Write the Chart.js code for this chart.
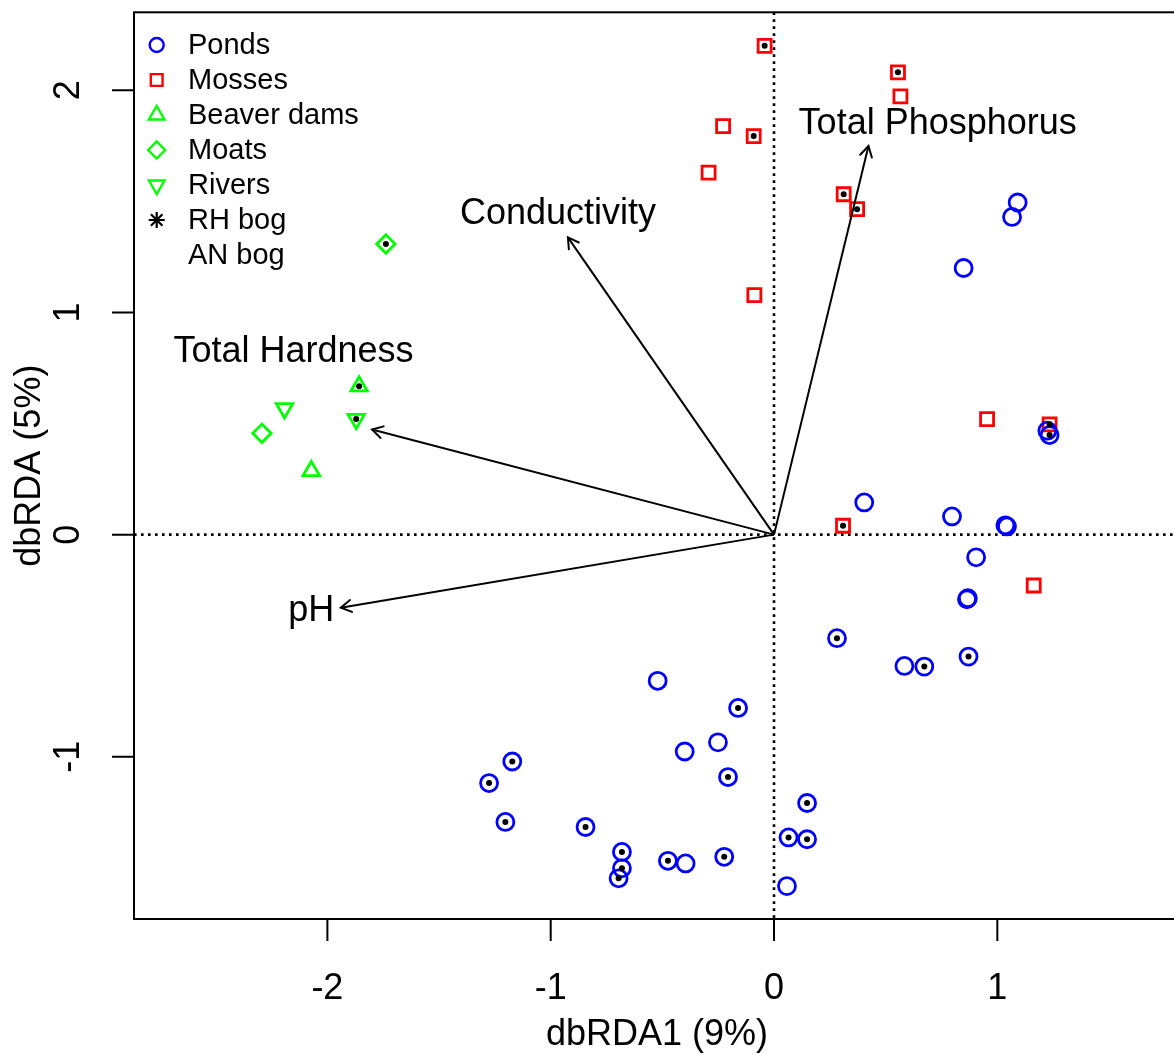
<!DOCTYPE html>
<html>
<head>
<meta charset="utf-8">
<script src="https://cdn.jsdelivr.net/npm/chart.js@4/dist/chart.umd.min.js"></script>
<style>
html,body{margin:0;padding:0;background:#fff;overflow:hidden;width:1174px;height:1055px}
#wrap{width:1174px;height:1055px;overflow:hidden;position:relative;background:#fff}
canvas{display:block}
</style>
</head>
<body>
<div id="wrap"><canvas id="c" width="1200" height="1055"></canvas></div>
<script>
// ---------- data ----------
const pondsX = [1.091, 1.066, 0.849, 1.234, 1.224, 0.404, 0.797, 1.043, 1.036, 0.905, 0.864, 0.868, 0.282, 0.584, 0.673, 0.871,
  -0.521, -0.161, -0.400, -0.251, -0.206, -1.172, -1.276, -1.203, -0.844, -0.681, -0.681, -0.696, -0.475, -0.396, -0.223, 0.148, 0.065, 0.148, 0.058];
const pondsY = [1.495, 1.430, 1.200, 0.448, 0.468, 0.145, 0.082, 0.037, 0.042, -0.102, -0.291, -0.286, -0.466, -0.591, -0.594, -0.549,
  -0.658, -0.780, -0.976, -0.935, -1.091, -1.021, -1.118, -1.293, -1.316, -1.428, -1.502, -1.547, -1.468, -1.480, -1.450, -1.208, -1.363, -1.371, -1.582];
const pondsRH = [0, 0, 0, 1, 0, 0, 0, 0, 0, 0, 0, 0, 1, 0, 1, 1,
  0, 1, 0, 0, 1, 1, 1, 1, 1, 1, 1, 1, 1, 0, 1, 1, 1, 1, 0];

const mossesX = [-0.042, 0.555, 0.566, -0.228, -0.091, -0.293, 0.312, 0.372, -0.088, 0.954, 1.234, 0.309, 1.163];
const mossesY = [2.200, 2.081, 1.973, 1.839, 1.794, 1.629, 1.532, 1.465, 1.078, 0.520, 0.496, 0.040, -0.229];
const mossesRH = [1, 1, 0, 0, 1, 0, 1, 1, 0, 0, 1, 1, 0];

const beaverX = [-1.858, -2.072];
const beaverY = [0.668, 0.287];
const beaverRH = [1, 0];

const moatsX = [-1.738, -2.293];
const moatsY = [1.308, 0.456];
const moatsRH = [1, 0];

const riversX = [-1.871, -2.192];
const riversY = [0.520, 0.568];
const riversRH = [1, 0];

const envNames = ["Total Phosphorus", "Conductivity", "Total Hardness", "pH"];
const envX = [0.423, -0.923, -1.800, -1.940];
const envY = [1.749, 1.338, 0.473, -0.329];
const envLabelX = [0.733, -0.967, -2.152, -2.072];
const envLabelY = [1.846, 1.445, 0.822, -0.344];

const xTicks = [-2, -1, 0, 1];
const yTicks = [-1, 0, 1, 2];
const xTickLabels = ["-2", "-1", "0", "1"];
const yTickLabels = ["-1", "0", "1", "2"];
const xTitle = "dbRDA1 (9%)";
const yTitle = "dbRDA (5%)";
const legendLabels = ["Ponds", "Mosses", "Beaver dams", "Moats", "Rivers", "RH bog", "AN bog"];

// ---------- build datasets ----------
const BLUE = "#0000FF", RED = "#FF0000", GREEN = "#00FF00";
function pts(xs, ys) { return xs.map((x, i) => ({ x: x, y: ys[i] })); }
function rhPts(xs, ys, f) { return xs.map((x, i) => ({ x: x, y: ys[i], f: f[i] })).filter(p => p.f === 1).map(p => ({ x: p.x, y: p.y })); }
const rhData = [].concat(
  rhPts(pondsX, pondsY, pondsRH), rhPts(mossesX, mossesY, mossesRH),
  rhPts(beaverX, beaverY, beaverRH), rhPts(moatsX, moatsY, moatsRH), rhPts(riversX, riversY, riversRH));

function sym(label, data, color, style, radius, rotation) {
  return { label: label, data: data, showLine: false, pointStyle: style, pointRadius: radius, pointHoverRadius: radius,
    pointRotation: rotation || 0, borderColor: color, backgroundColor: "rgba(0,0,0,0)", pointBorderWidth: 2.8, borderWidth: 2.8, order: 2 };
}
const datasets = [
  { label: "RH bog", data: rhData, pointStyle: "circle", pointRadius: 3, pointHoverRadius: 3, backgroundColor: "#000", borderColor: "#000", borderWidth: 0, pointBorderWidth: 0, order: 0 },
  sym("Ponds", pts(pondsX, pondsY), BLUE, "circle", 8.5),
  sym("Mosses", pts(mossesX, mossesY), RED, "rect", 9.2),
  sym("Beaver dams", pts(beaverX, beaverY), GREEN, "triangle", 9.5),
  sym("Moats", pts(moatsX, moatsY), GREEN, "rectRot", 9.2),
  sym("Rivers", pts(riversX, riversY), GREEN, "triangle", 9.5, 180)
];
envNames.forEach((n, i) => {
  datasets.push({ label: n, data: [{ x: 0, y: 0 }, { x: envX[i], y: envY[i] }], showLine: true, pointRadius: 0, pointHoverRadius: 0,
    borderColor: "#000", borderWidth: 2, backgroundColor: "#000", order: 1 });
});

const FONT = '"Liberation Sans", Arial, Helvetica, sans-serif';

const rPlot = {
  id: "rPlot",
  beforeDatasetsDraw(chart) {
    const ctx = chart.ctx, a = chart.chartArea, xs = chart.scales.x, ys = chart.scales.y;
    ctx.save();
    ctx.beginPath(); ctx.rect(a.left, a.top, a.right - a.left, a.bottom - a.top); ctx.clip();
    ctx.strokeStyle = "#000"; ctx.lineWidth = 2.6; ctx.setLineDash([2.6, 4.4]);
    const x0 = xs.getPixelForValue(0), y0 = ys.getPixelForValue(0);
    ctx.beginPath(); ctx.moveTo(x0, a.top); ctx.lineTo(x0, a.bottom); ctx.stroke();
    ctx.beginPath(); ctx.moveTo(a.left, y0); ctx.lineTo(a.right, y0); ctx.stroke();
    ctx.restore();
  },
  afterDatasetsDraw(chart) {
    const ctx = chart.ctx, a = chart.chartArea, xs = chart.scales.x, ys = chart.scales.y;
    ctx.save();
    // arrowheads
    ctx.strokeStyle = "#000"; ctx.lineWidth = 2; ctx.lineCap = "round";
    envNames.forEach((n, i) => {
      const ox = xs.getPixelForValue(0), oy = ys.getPixelForValue(0);
      const tx = xs.getPixelForValue(envX[i]), ty = ys.getPixelForValue(envY[i]);
      const ang = Math.atan2(ty - oy, tx - ox), L = 12, w = Math.PI / 6;
      ctx.beginPath();
      ctx.moveTo(tx - L * Math.cos(ang - w), ty - L * Math.sin(ang - w));
      ctx.lineTo(tx, ty);
      ctx.lineTo(tx - L * Math.cos(ang + w), ty - L * Math.sin(ang + w));
      ctx.stroke();
    });
    // env labels
    ctx.fillStyle = "#000"; ctx.font = "36px " + FONT; ctx.textAlign = "center"; ctx.textBaseline = "middle";
    envNames.forEach((n, i) => {
      ctx.fillText(n, xs.getPixelForValue(envLabelX[i]), ys.getPixelForValue(envLabelY[i]));
    });
    // box
    ctx.lineCap = "butt"; ctx.lineWidth = 2;
    ctx.strokeRect(a.left, a.top, a.right - a.left, a.bottom - a.top);
    // ticks
    const TL = 22;
    ctx.beginPath();
    xTicks.forEach(v => { const p = xs.getPixelForValue(v); ctx.moveTo(p, a.bottom); ctx.lineTo(p, a.bottom + TL); });
    yTicks.forEach(v => { const p = ys.getPixelForValue(v); ctx.moveTo(a.left, p); ctx.lineTo(a.left - TL, p); });
    ctx.stroke();
    ctx.font = "36px " + FONT;
    xTicks.forEach((v, i) => ctx.fillText(xTickLabels[i], xs.getPixelForValue(v), 989));
    yTicks.forEach((v, i) => {
      ctx.save(); ctx.translate(69, ys.getPixelForValue(v)); ctx.rotate(-Math.PI / 2);
      ctx.fillText(yTickLabels[i], 0, 0); ctx.restore();
    });
    // axis titles
    ctx.fillText(xTitle, (a.left + a.right) / 2, 1035);
    ctx.save(); ctx.translate(30, (a.top + a.bottom) / 2); ctx.rotate(-Math.PI / 2);
    ctx.fillText(yTitle, 0, 0); ctx.restore();
    // legend
    const lx = 156.7, tx = 188, ly0 = 45, dy = 35;
    ctx.textAlign = "left"; ctx.font = "29px " + FONT;
    legendLabels.forEach((lab, i) => ctx.fillText(lab, tx, ly0 + 1 + i * dy));
    const styles = [["circle", BLUE, 7, 0], ["rect", RED, 8.3, 0], ["triangle", GREEN, 9, 0], ["rectRot", GREEN, 8.5, 0], ["triangle", GREEN, 9, 180]];
    styles.forEach((s, i) => {
      ctx.strokeStyle = s[1]; ctx.fillStyle = "rgba(0,0,0,0)"; ctx.lineWidth = 2.4;
      Chart.helpers.drawPoint(ctx, { pointStyle: s[0], radius: s[2], rotation: s[3], borderWidth: 2.4 }, lx, ly0 + i * dy);
    });
    // asterisk for RH bog
    ctx.strokeStyle = "#000"; ctx.lineWidth = 2.2;
    const ay = ly0 + 5 * dy, r = 8;
    ctx.beginPath();
    ctx.moveTo(lx - r, ay); ctx.lineTo(lx + r, ay);
    ctx.moveTo(lx, ay - r); ctx.lineTo(lx, ay + r);
    const d = r * 0.72;
    ctx.moveTo(lx - d, ay - d); ctx.lineTo(lx + d, ay + d);
    ctx.moveTo(lx - d, ay + d); ctx.lineTo(lx + d, ay - d);
    ctx.stroke();
    ctx.restore();
  }
};

new Chart(document.getElementById("c"), {
  type: "scatter",
  data: { datasets: datasets },
  options: {
    responsive: false, animation: false, devicePixelRatio: 1,
    layout: { padding: { left: 134, top: 9, right: 20, bottom: 136 } },
    plugins: { legend: { display: false }, tooltip: { enabled: false } },
    events: [],
    scales: {
      x: { type: "linear", min: -2.866, max: 1.818, display: false },
      y: { type: "linear", min: -1.730, max: 2.351, display: false }
    },
    elements: { line: { tension: 0 } }
  },
  plugins: [rPlot]
});
</script>
</body>
</html>
